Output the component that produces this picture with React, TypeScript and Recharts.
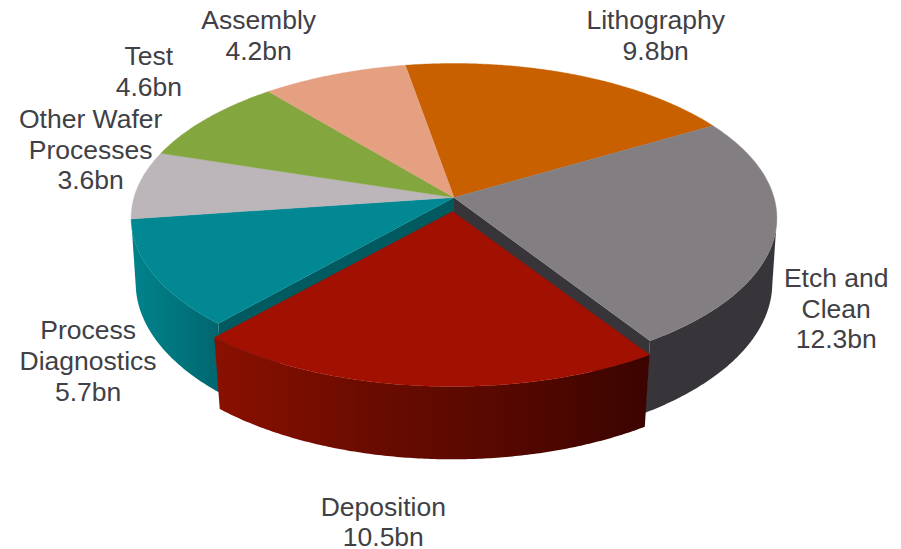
import React from "react";
import { PieChart, Pie } from "recharts";

const categories = ["Lithography", "Etch and Clean", "Deposition", "Process Diagnostics", "Other Wafer Processes", "Test", "Assembly"];
const values = [9.8, 12.3, 10.5, 5.7, 3.6, 4.6, 4.2];
const valueLabels = ["9.8bn", "12.3bn", "10.5bn", "5.7bn", "3.6bn", "4.6bn", "4.2bn"];
const nameLines = [["Lithography"], ["Etch and", "Clean"], ["Deposition"], ["Process", "Diagnostics"], ["Other Wafer", "Processes"], ["Test"], ["Assembly"]];
const colors = ["#c86000", "#837e82", "#a11000", "#018893", "#bcb6bb", "#84a63f", "#e5a082"];

const rows = categories.map((name, i) => ({ name, value: values[i], fill: colors[i], index: i }));

const W = 901, H = 549;
const CX = 454, CY = 197.5;
const RADIUS = 320;
const TOP = { a: 320, b: 151.8, p: 0.1327, y: 0 };
const BOTTOM = { a: 316, b: 160, p: 0.12, y: 66 };
const SIL = 97.6;

// label nudges from the slice's rim point to the text block centre
const labelNudges = [[81.5, -39], [61, 75], [-43, 150], [-65, 87], [-48, -35], [-58, -47], [-75.5, -39]];

type Plane = typeof TOP;
const rad = (d: number) => (d * Math.PI) / 180;

// theta: degrees clockwise from north
function proj(theta: number, plane: Plane, exploded: boolean): [number, number] {
  const u = Math.sin(rad(theta)), v = Math.cos(rad(theta));
  const w = 1 + plane.p * v;
  let x = (plane.a * u) / w;
  let y = plane.y - (plane.b * v) / w;
  if (exploded) {
    x = x * 1.008 - 2;
    y = y + 14;
  }
  return [CX + x, CY + y];
}
function apex(plane: Plane, exploded: boolean): [number, number] {
  return exploded ? [CX - 1.5, CY + plane.y + 14] : [CX, CY + plane.y];
}
function arc(a: number, b: number, plane: Plane, exploded: boolean) {
  const n = Math.max(2, Math.ceil(Math.abs(b - a) / 0.5));
  const pts: [number, number][] = [];
  for (let i = 0; i <= n; i++) pts.push(proj(a + ((b - a) * i) / n, plane, exploded));
  return pts;
}
const toPath = (pts: [number, number][]) => "M" + pts.map((p) => p[0].toFixed(2) + "," + p[1].toFixed(2)).join("L") + "Z";

function angles(props: any) {
  return { s: 90 - props.startAngle, e: 90 - props.endAngle };
}

function topFace(props: any, exploded: boolean) {
  const { s, e } = angles(props);
  const d = toPath([apex(TOP, exploded), ...arc(s, e, TOP, exploded)]);
  return <path d={d} fill={props.fill} stroke={props.fill} strokeWidth={0.4} />;
}

function wall(props: any, exploded: boolean, fill: string) {
  const { s, e } = angles(props);
  const a = Math.max(s, SIL), b = Math.min(e, 360 - SIL);
  if (b <= a) return null;
  const d = toPath([...arc(a, b, TOP, exploded), ...arc(b, a, BOTTOM, exploded)]);
  return <path d={d} fill={fill} />;
}

function gradient(id: string, stops: string[]) {
  return (
    <linearGradient id={id} x1="0" y1="0" x2="1" y2="0">
      {stops.map((c, i) => (
        <stop key={i} offset={i / (stops.length - 1)} stopColor={c} />
      ))}
    </linearGradient>
  );
}

const Body = (props: any) => {
  const name = props.name ?? props.payload?.name;
  if (name === "Etch and Clean") {
    const { e } = angles(props);
    const side = toPath([apex(TOP, false), proj(e, TOP, false), proj(e, BOTTOM, false), apex(BOTTOM, false)]);
    return (
      <g>
        {wall(props, false, "#38353a")}
        <path d={side} fill="#38353a" />
      </g>
    );
  }
  if (name === "Process Diagnostics") {
    const { s } = angles(props);
    const side = toPath([apex(TOP, false), proj(s, TOP, false), proj(s, BOTTOM, false), apex(BOTTOM, false)]);
    return (
      <g>
        <defs>{gradient("tealWall", ["#00838c", "#00757d", "#00656d"])}</defs>
        {wall(props, false, "url(#tealWall)")}
        <path d={side} fill="#005a60" />
      </g>
    );
  }
  return <g />;
};

const Tops = (props: any) => {
  const name = props.name ?? props.payload?.name;
  if (name === "Deposition") return <g />;
  return topFace(props, false);
};

const Exploded = (props: any) => {
  const name = props.name ?? props.payload?.name;
  if (name !== "Deposition") return <g />;
  return (
    <g>
      <defs>{gradient("redWall", ["#8a1000", "#6c0c00", "#560800", "#3b0400"])}</defs>
      {wall(props, true, "url(#redWall)")}
      {topFace(props, true)}
    </g>
  );
};

const renderLabel = (props: any) => {
  const i = categories.indexOf(props.name ?? props.payload?.name);
  const [px, py] = proj(90 - props.midAngle, TOP, false);
  const x = px + labelNudges[i][0];
  const lines = [...nameLines[i], valueLabels[i]];
  const lh = 30.6;
  const y0 = py + labelNudges[i][1] - ((lines.length - 1) * lh) / 2;
  return (
    <text key={i} x={x} y={y0} textAnchor="middle" dominantBaseline="central" fontFamily='"Liberation Sans", Arial, sans-serif' fontSize={26.5} fill="#404045">
      {lines.map((l, k) => (
        <tspan key={k} x={x} y={y0 + k * lh}>
          {l}
        </tspan>
      ))}
    </text>
  );
};

const common = {
  data: rows,
  dataKey: "value",
  nameKey: "name",
  cx: CX,
  cy: CY,
  innerRadius: 0,
  outerRadius: RADIUS,
  startAngle: 99.9,
  endAngle: -260.1,
  paddingAngle: 0,
  stroke: "none",
  isAnimationActive: false,
};

export default function App() {
  return (
    <div style={{ position: "absolute", left: 0, top: 0, width: W, height: H, background: "#fff" }}>
      <PieChart width={W} height={H} margin={{ top: 0, right: 0, bottom: 0, left: 0 }}>
        <Pie {...common} shape={Body} label={false} labelLine={false} />
        <Pie {...common} shape={Tops} label={false} labelLine={false} />
        <Pie {...common} shape={Exploded} label={renderLabel} labelLine={false} />
      </PieChart>
    </div>
  );
}
